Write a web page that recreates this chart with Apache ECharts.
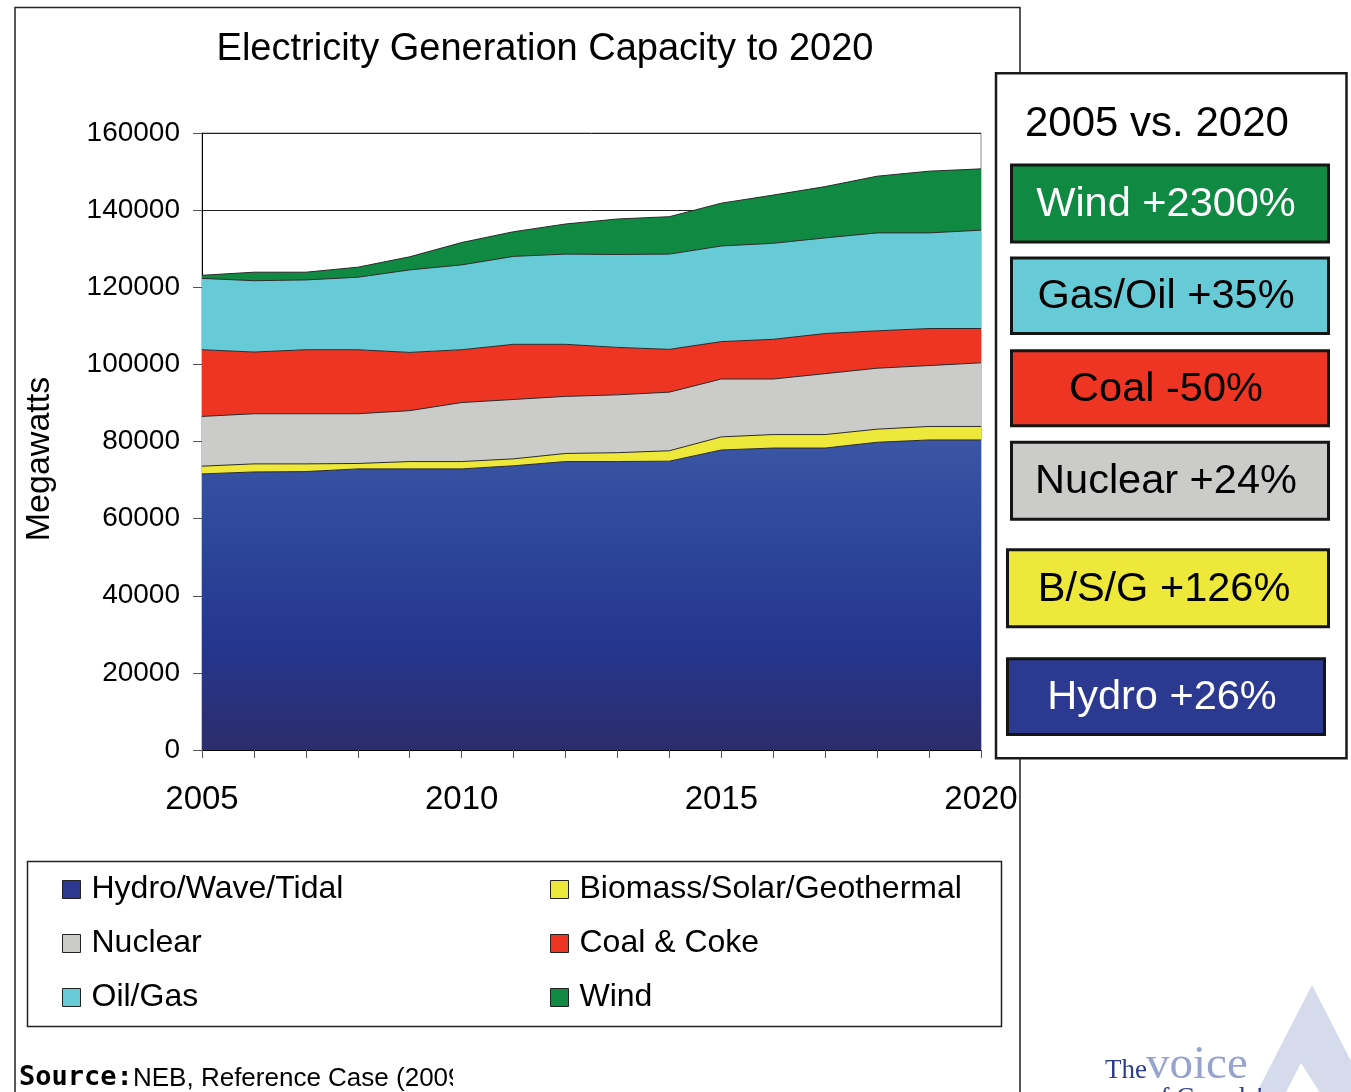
<!DOCTYPE html>
<html>
<head>
<meta charset="utf-8">
<script src="https://cdn.jsdelivr.net/npm/echarts@6/dist/echarts.min.js"></script>
<style>
  html, body { margin: 0; padding: 0; background: #fff; }
  #chart { width: 1351px; height: 1092px; }
</style>
</head>
<body>
<div id="chart"></div>
<script>
// ---- Data ----
const years = ['2005','2006','2007','2008','2009','2010','2011','2012','2013','2014','2015','2016','2017','2018','2019','2020'];
const xTickLabels = ['2005','2010','2015','2020'];
const seriesNames = ['Hydro/Wave/Tidal','Biomass/Solar/Geothermal','Nuclear','Coal & Coke','Oil/Gas','Wind'];
const hydro   = [71600, 72100, 72200, 72900, 72900, 72900, 73700, 74800, 74800, 74900, 77800, 78300, 78300, 79800, 80400, 80400];
const biomass = [2000, 2100, 2000, 1400, 1900, 1900, 1800, 2100, 2300, 2700, 3400, 3500, 3500, 3400, 3500, 3500];
const nuclear = [12900, 13000, 13000, 12900, 13200, 15300, 15400, 14800, 15000, 15200, 15000, 14400, 15800, 15800, 15800, 16500];
const coal    = [17300, 16000, 16600, 16600, 15100, 13700, 14300, 13500, 12300, 11100, 9700, 10300, 10400, 9700, 9600, 8900];
const oilGas  = [18500, 18500, 18100, 18800, 21400, 22000, 22800, 23400, 24100, 24700, 24800, 24900, 24800, 25400, 24800, 25500];
const wind    = [800, 2200, 2000, 2600, 3400, 5800, 6400, 7800, 9200, 9700, 11100, 12500, 13300, 14700, 16000, 15900];
const panelTitle = '2005 vs. 2020';
const panelLabels = ['Wind +2300%','Gas/Oil +35%','Coal -50%','Nuclear +24%','B/S/G +126%','Hydro +26%'];
const chartTitle = 'Electricity Generation Capacity to 2020';
const yAxisName = 'Megawatts';
const sourceLabel = 'Source:';
const sourceText = 'NEB, Reference Case (2009';

// ---- Styles ----
const FF = '"Liberation Sans", Arial, Helvetica, sans-serif';
const colors = {
  hydro: '#2b3990', biomass: '#ede83a', nuclear: '#cbcbc9',
  coal: '#ee3524', oil: '#66cbd7', wind: '#108a43'
};
const hydroGradient = {
  type: 'linear', x: 0, y: 0, x2: 0, y2: 1,
  colorStops: [
    { offset: 0, color: '#3a56a4' },
    { offset: 0.35, color: '#2c4598' },
    { offset: 0.65, color: '#25368f' },
    { offset: 1, color: '#2c2d6c' }
  ]
};

function areaSeries(name, data, fill, solid) {
  return {
    name: name, type: 'line', stack: 'total', data: data,
    symbol: 'none', smooth: false,
    lineStyle: { color: '#2a2a2a', width: 1 },
    areaStyle: { color: fill, opacity: 1 },
    itemStyle: { color: solid },
    emphasis: { disabled: true }
  };
}

const panelBoxes = [
  { x: 1010, y: 163.5, w: 320, h: 80, fill: colors.wind, text: '#fff' },
  { x: 1010, y: 256.5, w: 320, h: 78.5, fill: colors.oil, text: '#000' },
  { x: 1010, y: 349.3, w: 320, h: 78, fill: colors.coal, text: '#000' },
  { x: 1010, y: 440.7, w: 320, h: 80, fill: colors.nuclear, text: '#000' },
  { x: 1006, y: 548.3, w: 324, h: 80, fill: colors.biomass, text: '#000' },
  { x: 1006, y: 657.3, w: 320, h: 78.7, fill: colors.hydro, text: '#fff' }
];

const graphics = [];
// outer frame of chart
graphics.push({ type: 'rect', shape: { x: 15, y: 7.5, width: 1005, height: 1100 },
  style: { fill: 'none', stroke: '#222', lineWidth: 1.5 }, z: 0 });
// legend box
graphics.push({ type: 'rect', shape: { x: 27.5, y: 861.5, width: 974, height: 165 },
  style: { fill: 'none', stroke: '#222', lineWidth: 1.5 }, z: 0 });
// y axis title
graphics.push({ type: 'text', x: 40, y: 459, rotation: Math.PI / 2, z: 6,
  style: { text: yAxisName, font: '34px ' + FF, fill: '#000', align: 'center', verticalAlign: 'middle' } });
// right panel
graphics.push({ type: 'rect', shape: { x: 996, y: 73.2, width: 350.5, height: 685 },
  style: { fill: '#fff', stroke: '#1a1a1a', lineWidth: 2.5 }, z: 5 });
graphics.push({ type: 'text', x: 1025, y: 124, z: 6,
  style: { text: panelTitle, font: '42px ' + FF, fill: '#000', verticalAlign: 'middle', align: 'left' } });
panelBoxes.forEach(function (b, i) {
  graphics.push({ type: 'rect', z: 6,
    shape: { x: b.x + 1.5, y: b.y + 1.5, width: b.w - 3, height: b.h - 3 },
    style: { fill: b.fill, stroke: '#151515', lineWidth: 3 } });
  graphics.push({ type: 'text', z: 7, x: b.x + b.w / 2 - 4, y: b.y + b.h / 2 + 1,
    style: { text: panelLabels[i], font: '41.5px ' + FF, fill: b.text, align: 'center', verticalAlign: 'middle' } });
});
// source note
graphics.push({ type: 'text', x: 19, y: 1078, z: 6,
  style: { text: sourceLabel, font: 'bold 27px "DejaVu Sans Mono", monospace', fill: '#000', verticalAlign: 'middle' } });
graphics.push({ type: 'text', x: 133, y: 1079, z: 6,
  style: { text: sourceText, font: '26px ' + FF, fill: '#000', verticalAlign: 'middle' } });
graphics.push({ type: 'rect', z: 7, shape: { x: 453, y: 1058, width: 80, height: 40 }, style: { fill: '#fff' } });
// logo
graphics.push({ type: 'polygon', z: 4, shape: { points: [[1312, 985], [1255, 1096], [1369, 1096]] },
  style: { fill: '#d6dbec' } });
graphics.push({ type: 'polygon', z: 4, shape: { points: [[1301, 1063], [1284, 1096], [1322, 1096]] },
  style: { fill: '#fff' } });
graphics.push({ type: 'text', x: 1105, y: 1071, z: 6,
  style: { text: 'The', font: '27px "Liberation Serif", "Times New Roman", serif', fill: '#2e3d8a', verticalAlign: 'middle' } });
graphics.push({ type: 'text', x: 1146, y: 1066, z: 6,
  style: { text: 'voice', font: '47px "Liberation Serif", "Times New Roman", serif', fill: '#97a3cf', verticalAlign: 'middle' } });
graphics.push({ type: 'text', x: 1147, y: 1099, z: 6,
  style: { text: "of Canada's", font: '27px "Liberation Serif", "Times New Roman", serif', fill: '#2e3d8a', verticalAlign: 'middle' } });

const legendBase = {
  orient: 'vertical', top: 873.5, itemWidth: 18, itemHeight: 18, itemGap: 22,
  icon: 'rect', padding: 0, selectedMode: false,
  itemStyle: { borderColor: '#222', borderWidth: 1 },
  textStyle: { fontSize: 32, color: '#000', fontFamily: FF, lineHeight: 30, padding: [0, 0, 0, 6] }
};

const option = {
  animation: false,
  backgroundColor: '#fff',
  title: {
    text: chartTitle, left: 545, textAlign: 'center', top: 31, padding: 0,
    textStyle: { fontSize: 38, fontWeight: 'normal', color: '#000', fontFamily: FF }
  },
  grid: { left: 202, right: 370, top: 133, bottom: 342, show: true, borderColor: '#8a8a8a', borderWidth: 1 },
  legend: [
    Object.assign({}, legendBase, { left: 62, data: [seriesNames[0], seriesNames[2], seriesNames[4]] }),
    Object.assign({}, legendBase, { left: 550, data: [seriesNames[1], seriesNames[3], seriesNames[5]] })
  ],
  xAxis: {
    type: 'category', data: years, boundaryGap: false,
    axisLine: { lineStyle: { color: '#000', width: 1 } },
    axisTick: { show: true, interval: 0, length: 8, lineStyle: { color: '#555' } },
    axisLabel: {
      interval: function (i, v) { return xTickLabels.indexOf(v) >= 0; },
      fontSize: 33, color: '#000', margin: 33, fontFamily: FF
    },
    splitLine: { show: false }
  },
  yAxis: {
    type: 'value', min: 0, max: 160000, interval: 20000,
    axisLine: { show: true, lineStyle: { color: '#000', width: 1 } },
    axisTick: { show: true, length: 9, lineStyle: { color: '#555' } },
    axisLabel: { fontSize: 28, color: '#000', margin: 22, fontFamily: FF,
      formatter: function (v) { return String(v); } },
    splitLine: { show: true, lineStyle: { color: '#222', width: 1 } }
  },
  series: [
    areaSeries(seriesNames[0], hydro, hydroGradient, colors.hydro),
    areaSeries(seriesNames[1], biomass, colors.biomass, colors.biomass),
    areaSeries(seriesNames[2], nuclear, colors.nuclear, colors.nuclear),
    areaSeries(seriesNames[3], coal, colors.coal, colors.coal),
    areaSeries(seriesNames[4], oilGas, colors.oil, colors.oil),
    areaSeries(seriesNames[5], wind, colors.wind, colors.wind)
  ],
  graphic: { elements: graphics }
};

const chart = echarts.init(document.getElementById('chart'), null, { renderer: 'canvas' });
chart.setOption(option);
</script>
</body>
</html>
